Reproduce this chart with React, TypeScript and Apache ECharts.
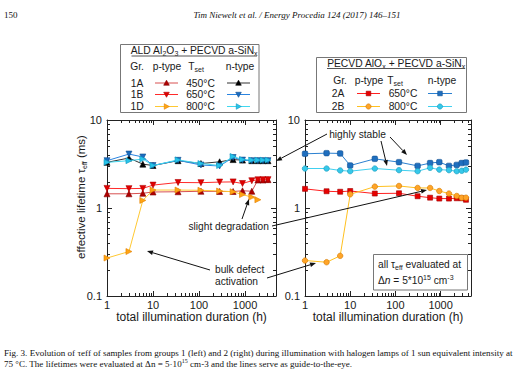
import React, { useEffect, useRef } from "react";
import * as echarts from "echarts";

const SANS = '"Liberation Sans", Arial, sans-serif';
const SERIF = '"Liberation Serif", "Times New Roman", serif';

// ---------- Group 1 (left panel) ----------
const hours1 = [1, 3, 6, 10, 35, 110, 280, 550, 880, 1400, 1900, 2450, 3150];
const hours1D = [1, 3, 6, 10, 35, 110, 280, 550, 880, 1400, 1900];
const tau1A_p = [1.45, 1.45, 1.47, 1.52, 1.53, 1.55, 1.54, 1.54, 1.57, 1.55, 2.08, 2.08, 2.1];
const tau1B_p = [1.67, 1.66, 1.67, 1.82, 1.95, 1.94, 1.97, 1.98, 1.9, 2.04, 2.09, 2.1, 2.1];
const tau1D_p = [0.27, 0.32, 1.22, 1.6, 1.6, 1.59, 1.56, 1.53, 1.42, 1.33, 1.24];
const tau1A_n = [3.3, 3.7, 3.15, 3.04, 3.45, 3.2, 3.35, 3.55, 3.5, 3.45, 3.45, 3.45, 3.45];
const tau1B_n = [3.45, 4.1, 3.8, 3.04, 3.48, 3.08, 3.0, 3.75, 3.5, 3.45, 3.45, 3.45, 3.45];
const tau1D_n = [3.3, 3.45, 3.6, 3.04, 3.52, 3.2, 3.04, 3.85, 3.55, 3.5, 3.5, 3.5, 3.5];

// ---------- Group 2 (right panel) ----------
const hours2 = [1, 3, 6, 10, 35, 120, 310, 585, 935, 1530, 2270, 2930, 3640];
const tau2A_p = [1.65, 1.55, 1.53, 1.56, 1.46, 1.47, 1.36, 1.31, 1.28, 1.28, 1.29, 1.29, 1.24];
const tau2B_p = [0.253, 0.242, 0.286, 1.43, 1.75, 1.78, 1.69, 1.69, 1.56, 1.46, 1.37, 1.31, 1.31];
const tau2A_n = [4.13, 4.2, 4.17, 3.04, 3.62, 3.32, 3.01, 3.24, 3.32, 3.01, 3.09, 3.24, 3.29];
const tau2B_n = [2.81, 2.81, 2.67, 2.62, 2.81, 2.69, 2.62, 2.86, 2.73, 2.69, 2.62, 2.65, 2.73];

// ---------- axes ----------
const X_MIN = 1;
const X_MAX = 4700;
const Y_MIN = 0.1;
const Y_MAX = 10;
const xMinorTicks = [2, 3, 4, 5, 6, 7, 8, 9, 20, 30, 40, 50, 60, 70, 80, 90, 200, 300, 400, 500, 600, 700, 800, 900, 2000, 3000, 4000];
const yMinorTicks = [0.2, 0.3, 0.4, 0.5, 0.6, 0.7, 0.8, 0.9, 2, 3, 4, 5, 6, 7, 8, 9];

const AX = "#222";
const TXT = "#1a1a1a";

const decadeLabel = (v: number) => {
  const l = Math.log10(v);
  if (Math.abs(l - Math.round(l)) < 1e-6) return String(+Math.pow(10, Math.round(l)).toPrecision(6));
  return "";
};

const zip = (t: number[], v: number[]) => t.map((x, i) => [x, v[i]]);

function xAxisDef(gi: number, pos: string, labels: boolean) {
  return {
    type: "log", logBase: 10, gridIndex: gi, position: pos, min: X_MIN, max: X_MAX,
    axisLine: { show: true, onZero: false, lineStyle: { color: AX, width: 1 } },
    axisTick: { show: true, inside: true, length: 5, lineStyle: { color: AX, width: 1 } },
    axisLabel: { show: labels, formatter: decadeLabel, fontSize: 11, color: TXT, margin: 3, fontFamily: SANS },
    splitLine: { show: false },
  };
}
function yAxisDef(gi: number, pos: string, labels: boolean) {
  return {
    type: "log", logBase: 10, gridIndex: gi, position: pos, min: Y_MIN, max: Y_MAX,
    axisLine: { show: true, onZero: false, lineStyle: { color: AX, width: 1 } },
    axisTick: { show: true, inside: true, length: 5, lineStyle: { color: AX, width: 1 } },
    axisLabel: { show: labels, formatter: decadeLabel, fontSize: 11, color: TXT, margin: 5, fontFamily: SANS },
    splitLine: { show: false },
  };
}

function lineSeries(xi: number, yi: number, t: number[], v: number[], lineColor: string, fill: string, edge: string, symbol: string, rot: number, size: number, z: number) {
  return {
    type: "line", xAxisIndex: xi, yAxisIndex: yi, data: zip(t, v),
    symbol, symbolRotate: rot, symbolSize: size, showAllSymbol: true,
    lineStyle: { color: lineColor, width: 1 },
    itemStyle: { color: fill, borderColor: edge, borderWidth: 0.6 },
    emphasis: { disabled: true }, silent: true, z,
  };
}

function minorTickSeries(xi: number, yi: number, horizontal: boolean) {
  const vals = horizontal ? xMinorTicks : yMinorTicks;
  return {
    type: "custom", xAxisIndex: xi, yAxisIndex: yi, silent: true, z: 1,
    data: vals.map((v) => (horizontal ? [v, 1] : [10, v])),
    renderItem: (params: any, api: any) => {
      const L = 3;
      if (horizontal) {
        const v = api.value(0);
        const b = api.coord([v, Y_MIN]);
        const t = api.coord([v, Y_MAX]);
        const x = Math.round(b[0]) + 0.5;
        return {
          type: "group",
          children: [
            { type: "line", shape: { x1: x, y1: b[1], x2: x, y2: b[1] - L }, style: { stroke: AX, lineWidth: 1 } },
            { type: "line", shape: { x1: x, y1: t[1], x2: x, y2: t[1] + L }, style: { stroke: AX, lineWidth: 1 } },
          ],
        };
      }
      const v = api.value(1);
      const l = api.coord([X_MIN, v]);
      const r = api.coord([X_MAX, v]);
      const y = Math.round(l[1]) + 0.5;
      return {
        type: "group",
        children: [
          { type: "line", shape: { x1: l[0], y1: y, x2: l[0] + L, y2: y }, style: { stroke: AX, lineWidth: 1 } },
          { type: "line", shape: { x1: r[0], y1: y, x2: r[0] - L, y2: y }, style: { stroke: AX, lineWidth: 1 } },
        ],
      };
    },
  };
}

// ---------- graphic helpers ----------
const RICH = {
  s: { fontSize: 7, lineHeight: 7, verticalAlign: "bottom", fontFamily: SANS, fill: TXT },
  sup: { fontSize: 7, lineHeight: 7, verticalAlign: "top", fontFamily: SANS, fill: TXT },
  i: { fontSize: 10.3, fontStyle: "italic", fontFamily: SANS, fill: TXT },
};

function txt(x: number, y: number, text: string, size = 10.3, align = "left", extra: any = {}, rotation = 0) {
  return {
    type: "text", x, y, rotation, silent: true, z: 50,
    style: { text, fontSize: size, fontFamily: SANS, fill: TXT, align, verticalAlign: "middle", lineHeight: 13, rich: RICH, ...extra },
  };
}

function arrow(x1: number, y1: number, x2: number, y2: number) {
  const a = Math.atan2(y2 - y1, x2 - x1);
  const L = 6, W = 2.3;
  const bx = x2 - L * Math.cos(a), by = y2 - L * Math.sin(a);
  const px = -Math.sin(a) * W, py = Math.cos(a) * W;
  return [
    { type: "line", silent: true, z: 40, shape: { x1, y1, x2: bx, y2: by }, style: { stroke: "#111", lineWidth: 1 } },
    { type: "polygon", silent: true, z: 40, shape: { points: [[x2, y2], [bx + px, by + py], [bx - px, by - py]] }, style: { fill: "#111" } },
  ];
}

function mark(kind: string, cx: number, cy: number, fill: string, edge: string) {
  const s = 2.8;
  let el: any;
  if (kind === "up") el = { type: "polygon", shape: { points: [[cx, cy - s], [cx - s, cy + s * 0.8], [cx + s, cy + s * 0.8]] } };
  else if (kind === "down") el = { type: "polygon", shape: { points: [[cx, cy + s], [cx - s, cy - s * 0.8], [cx + s, cy - s * 0.8]] } };
  else if (kind === "right") el = { type: "polygon", shape: { points: [[cx + s, cy], [cx - s * 0.8, cy - s], [cx - s * 0.8, cy + s]] } };
  else if (kind === "rect") el = { type: "rect", shape: { x: cx - 2.3, y: cy - 2.3, width: 4.6, height: 4.6 } };
  else el = { type: "circle", shape: { cx, cy, r: 2.6 } };
  return { ...el, silent: true, z: 52, style: { fill, stroke: edge, lineWidth: 0.6 } };
}

function legendLine(x1: number, x2: number, y: number, lineColor: string, kind: string, fill: string, edge: string) {
  return [
    { type: "line", silent: true, z: 51, shape: { x1, y1: y, x2, y2: y }, style: { stroke: lineColor, lineWidth: 1 } },
    mark(kind, (x1 + x2) / 2, y, fill, edge),
  ];
}

// colours
const C = {
  p1A_line: "#d85050", p1A: "#b00000",
  p1B_line: "#ff2a2a", p1B: "#e00000",
  p1D_line: "#ffc832", p1D: "#ffa414",
  n1A_line: "#333333", n1A: "#000000",
  n1B_line: "#2a84e0", n1B: "#1a6cc0",
  n1D_line: "#40d8f0", n1D: "#28c4ea",
  p2A_line: "#ff2020", p2A: "#e80000",
  p2B_line: "#ffc020", p2B: "#ffa428",
  n2A_line: "#2a80d0", n2A: "#1f6fbf",
  n2B_line: "#40d0f0", n2B: "#36c8ea",
};

const option: any = {
  animation: false,
  backgroundColor: "#ffffff",
  grid: [
    { left: 107, top: 120, width: 169, height: 176 },
    { left: 305, top: 120, width: 166, height: 176 },
  ],
  xAxis: [xAxisDef(0, "bottom", true), xAxisDef(0, "top", false), xAxisDef(1, "bottom", true), xAxisDef(1, "top", false)],
  yAxis: [yAxisDef(0, "left", true), yAxisDef(0, "right", false), yAxisDef(1, "left", true), yAxisDef(1, "right", false)],
  series: [
    minorTickSeries(0, 0, true),
    minorTickSeries(0, 0, false),
    minorTickSeries(2, 2, true),
    minorTickSeries(2, 2, false),
    // left panel
    lineSeries(0, 0, hours1, tau1A_p, C.p1A_line, C.p1A, "#800000", "triangle", 0, 6, 10),
    lineSeries(0, 0, hours1, tau1B_p, C.p1B_line, C.p1B, "#b00000", "triangle", 180, 6, 11),
    lineSeries(0, 0, hours1D, tau1D_p, C.p1D_line, C.p1D, "#e08000", "triangle", -90, 6, 12),
    lineSeries(0, 0, hours1, tau1A_n, C.n1A_line, C.n1A, "#000000", "triangle", 0, 6, 13),
    lineSeries(0, 0, hours1, tau1B_n, C.n1B_line, C.n1B, "#104f90", "triangle", 180, 6, 14),
    lineSeries(0, 0, hours1, tau1D_n, C.n1D_line, C.n1D, "#1098c0", "triangle", -90, 6, 15),
    // right panel
    lineSeries(2, 2, hours2, tau2A_p, C.p2A_line, C.p2A, "#a00000", "rect", 0, 5, 10),
    lineSeries(2, 2, hours2, tau2B_p, C.p2B_line, C.p2B, "#d07800", "circle", 0, 5.5, 11),
    lineSeries(2, 2, hours2, tau2A_n, C.n2A_line, C.n2A, "#0f4f90", "roundRect", 0, 5.5, 12),
    lineSeries(2, 2, hours2, tau2B_n, C.n2B_line, C.n2B, "#1898b8", "circle", 0, 5.5, 13),
  ],
  graphic: [
    // page header
    { type: "text", x: 4, y: 15, silent: true, style: { text: "150", fontSize: 9, fontFamily: SERIF, fill: "#111", verticalAlign: "middle" } },
    { type: "text", x: 297, y: 15, silent: true, style: { text: "Tim Niewelt et al. / Energy Procedia 124 (2017) 146\u2013151", fontSize: 9, fontStyle: "italic", fontFamily: SERIF, fill: "#111", align: "center", verticalAlign: "middle" } },

    // left legend box
    { type: "rect", silent: true, z: 45, shape: { x: 120.5, y: 44.5, width: 138.5, height: 68 }, style: { fill: "#fff", stroke: "#777", lineWidth: 1 } },
    txt(194, 50.5, "ALD Al{s|2}O{s|3} + PECVD a-SiN{s|x}", 10.3, "center"),
    { type: "line", silent: true, z: 50, shape: { x1: 131.5, y1: 56, x2: 257, y2: 56 }, style: { stroke: "#555", lineWidth: 1 } },
    txt(137, 66, "Gr.", 10.3, "center"),
    txt(167, 66, "p-type", 10.3, "center"),
    txt(196, 66, "T{s|set}", 10.3, "center"),
    txt(240, 66, "n-type", 10.3, "center"),
    txt(137, 83, "1A", 10.3, "center"),
    txt(137, 94.5, "1B", 10.3, "center"),
    txt(137, 106.5, "1D", 10.3, "center"),
    txt(200.5, 83, "450°C", 10.3, "center"),
    txt(200.5, 94.5, "650°C", 10.3, "center"),
    txt(200.5, 106.5, "800°C", 10.3, "center"),
    ...legendLine(155, 178, 83, C.p1A_line, "up", C.p1A, "#800000"),
    ...legendLine(155, 178, 94.5, C.p1B_line, "down", C.p1B, "#b00000"),
    ...legendLine(155, 178, 106.5, C.p1D_line, "right", C.p1D, "#e08000"),
    ...legendLine(227, 250, 83, C.n1A_line, "up", C.n1A, "#000"),
    ...legendLine(227, 250, 94.5, C.n1B_line, "down", C.n1B, "#104f90"),
    ...legendLine(227, 250, 106.5, C.n1D_line, "right", C.n1D, "#1098c0"),

    // right legend box
    { type: "rect", silent: true, z: 45, shape: { x: 316.5, y: 57.5, width: 150, height: 55 }, style: { fill: "#fff", stroke: "#777", lineWidth: 1 } },
    txt(396, 63, "PECVD AlO{s|x} + PECVD a-SiN{s|x}", 10.3, "center"),
    { type: "line", silent: true, z: 50, shape: { x1: 327, y1: 68.5, x2: 465, y2: 68.5 }, style: { stroke: "#555", lineWidth: 1 } },
    txt(340, 80, "Gr.", 10.3, "center"),
    txt(369, 80, "p-type", 10.3, "center"),
    txt(395, 80, "T{s|set}", 10.3, "center"),
    txt(442, 80, "n-type", 10.3, "center"),
    txt(338, 93.5, "2A", 10.3, "center"),
    txt(338, 106.5, "2B", 10.3, "center"),
    txt(403, 93.5, "650°C", 10.3, "center"),
    txt(403, 106.5, "800°C", 10.3, "center"),
    ...legendLine(357, 380, 93.5, C.p2A_line, "rect", C.p2A, "#a00000"),
    ...legendLine(357, 380, 106.5, C.p2B_line, "circle", C.p2B, "#d07800"),
    ...legendLine(428, 452, 93.5, C.n2A_line, "rect", C.n2A, "#0f4f90"),
    ...legendLine(428, 452, 106.5, C.n2B_line, "circle", C.n2B, "#1898b8"),

    // axis titles
    txt(81, 197, "effective lifetime τ{s|eff} (ms)", 11.5, "center", {}, Math.PI / 2),
    txt(191.5, 317, "total illumination duration (h)", 12, "center"),
    txt(388, 317, "total illumination duration (h)", 12, "center"),

    // annotations
    txt(357.5, 134.5, "highly stable", 10.2, "center"),
    ...arrow(327, 134, 276, 161),
    ...arrow(381, 141, 387, 166),
    ...arrow(390, 137, 407, 155),
    txt(188.5, 226.5, "slight degradation", 10.2, "left"),
    ...arrow(242, 219, 249, 199),
    ...arrow(272, 226, 427, 190),
    txt(215, 269, "bulk defect", 10.2, "left"),
    txt(215, 281, "activation", 10.2, "left"),
    ...arrow(210, 270, 147, 251),
    ...arrow(267, 278, 316, 263),

    // evaluation note box
    { type: "rect", silent: true, z: 45, shape: { x: 373.5, y: 254.5, width: 94, height: 35.5 }, style: { fill: "#fff", stroke: "#777", lineWidth: 1 } },
    txt(378, 264.5, "all τ{s|eff} evaluated at", 10.2, "left"),
    txt(378, 280, "Δ{i|n} = 5*10{sup|15} cm{sup|-3}", 10.2, "left"),

    // caption
    { type: "text", x: 4, y: 353, silent: true, style: { text: "Fig. 3. Evolution of τeff of samples from groups 1 (left) and 2 (right) during illumination with halogen lamps of 1 sun equivalent intensity at", fontSize: 9.05, fontFamily: SERIF, fill: "#111", verticalAlign: "middle" } },
    { type: "text", x: 4, y: 363.5, silent: true, style: { text: "75 °C. The lifetimes were evaluated at Δn = 5·10{sup|15} cm-3 and the lines serve as guide-to-the-eye.", fontSize: 9.05, fontFamily: SERIF, fill: "#111", verticalAlign: "middle", lineHeight: 11, rich: { sup: { fontSize: 6, lineHeight: 6, verticalAlign: "top", fontFamily: SERIF, fill: "#111" } } } },
  ],
};

export default function App() {
  const ref = useRef<HTMLDivElement>(null);
  useEffect(() => {
    const chart = echarts.init(ref.current!, null, { renderer: "svg" });
    chart.setOption(option);
    return () => chart.dispose();
  }, []);
  return (
    <div
      ref={ref}
      style={{ position: "fixed", left: 0, top: 0, width: 529, height: 384, background: "#fff" }}
    />
  );
}
